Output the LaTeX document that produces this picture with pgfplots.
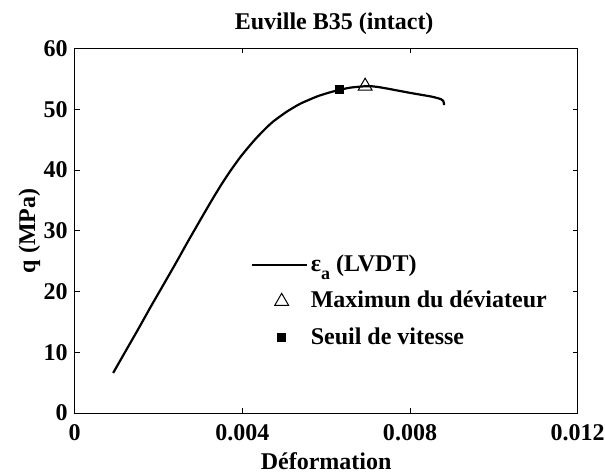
\documentclass[border=0pt]{standalone}
\usepackage{fontspec}
\setmainfont{Liberation Serif}
\usepackage{pgfplots}
\pgfplotsset{compat=1.18}
\pgfplotsset{
  lineleg/.style={legend image code/.code={\draw[##1] (0pt,0pt) -- (27.5pt,0pt);}},
  markleg/.style={legend image code/.code={\draw[##1, mark repeat=2, mark phase=2] plot coordinates {(0pt,0pt) (15pt,0pt) (30pt,0pt)};}},
}
\pgfplotstableread{
x y
0.00092 6.6
0.00120 10.0
0.00150 13.6
0.00180 17.3
0.00210 20.9
0.00240 24.5
0.00270 28.2
0.00300 31.8
0.00327 35.0
0.00350 37.6
0.00371 39.8
0.00395 42.1
0.00415 43.8
0.00434 45.3
0.00455 46.8
0.00474 48.0
0.00506 49.6
0.00538 50.9
0.00578 52.1
0.00605 52.7
0.00632 53.2
0.00657 53.55
0.00685 53.75
0.00705 53.8
0.00725 53.65
0.00750 53.35
0.00769 53.1
0.00800 52.7
0.00825 52.4
0.00850 52.1
0.00865 51.85
0.00874 51.65
0.00879 51.4
0.00881 51.0
0.00881 50.7
}\curvedata
\begin{document}
\fontsize{12}{14}\selectfont\bfseries
\begin{tikzpicture}
\begin{axis}[
  scale only axis, width=251.5pt, height=182.25pt,
  xmin=0, xmax=0.012, ymin=0, ymax=60,
  xtick={0,0.004,0.008,0.012}, xticklabels={0,0.004,0.008,0.012},
  ytick={0,10,20,30,40,50,60}, yticklabels={0,10,20,30,40,50,60},
  scaled x ticks=false,
  tick align=inside, major tick length=2.5pt,
  axis line style={line width=0.5pt},
  every tick/.style={line width=0.5pt, black},
  font=\fontsize{12}{14}\selectfont\bfseries,
  ticklabel style={font=\fontsize{12}{14}\selectfont\bfseries},
  /pgf/number format/assume math mode=true,
  xticklabel style={anchor=base, yshift=-13.5pt},
  yticklabel style={anchor=east, inner xsep=3.3pt},
  title={Euville B35 (intact)},
  title style={at={(axis description cs:0.5,1)}, anchor=base, yshift=3.6pt, xshift=4pt},
  xlabel={Déformation},
  xlabel style={at={(axis description cs:0.5,0)}, anchor=base, yshift=-28pt},
  ylabel={q (MPa)},
  ylabel style={at={(axis description cs:-0.09,0.5)}, anchor=center},
  legend cell align=left,
  legend style={draw=none, fill=none, at={(axis description cs:0.349,0.443)}, anchor=north west,
    row sep=5pt, inner sep=0pt, nodes={inner sep=1.5pt}, font=\fontsize{12}{14}\selectfont\bfseries},
]
\addplot[black, line width=1.1pt, no markers, smooth, tension=0.4, lineleg] table {\curvedata};
\addlegendentry{ε\raisebox{-0.7ex}{\fontsize{9}{10}\selectfont a} (LVDT)}
\addplot[black, only marks, mark=triangle, mark size=4pt, mark options={line width=0.5pt, fill=white}, markleg]
  coordinates {(0.00693,53.8)};
\addlegendentry{Maximun du déviateur}
\addplot[black, only marks, mark=square*, mark size=2pt, markleg]
  coordinates {(0.00632,53.2)};
\addlegendentry{Seuil de vitesse}
\end{axis}
\pgfresetboundingbox
\path[use as bounding box] ([shift={(-37.3pt,-29.5pt)}]current axis.south west) rectangle ([shift={(13.65pt,24.25pt)}]current axis.north east);
\end{tikzpicture}
\end{document}
